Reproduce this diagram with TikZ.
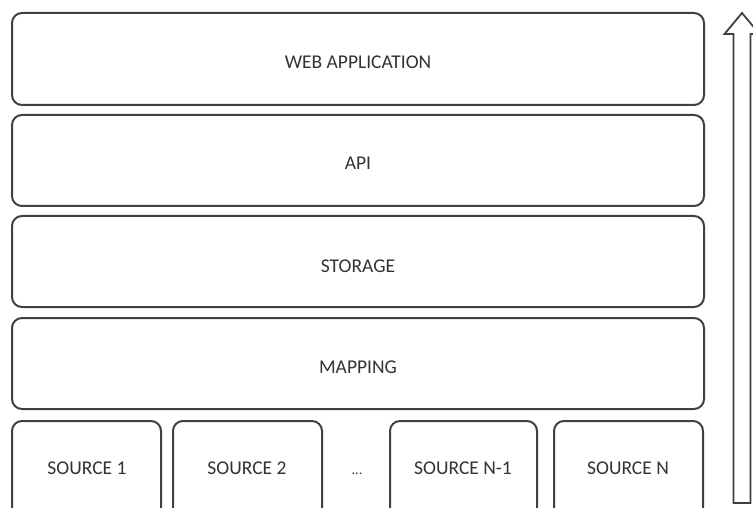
\documentclass[tikz,border=0pt]{standalone}
\usepackage{fontspec}
\setmainfont{Carlito}
\begin{document}
\begin{tikzpicture}[x=1pt,y=-1pt,
  layer/.style={draw=black!75,line width=2pt,rounded corners=10pt,fill=white},
  lbl/.style={text=black!80,font=\fontsize{19.5}{22}\selectfont}]
\useasboundingbox (0,0) rectangle (753,508);
\clip (0,0) rectangle (753,508);
\draw[layer] (12,13) rectangle (704,105);
\node[lbl] (web) at (358,62) {WEB APPLICATION};
\draw[layer] (12,115) rectangle (704,206);
\node[lbl] (api) at (358,163) {API};
\draw[layer] (12,216) rectangle (704,307);
\node[lbl] (sto) at (358,266) {STORAGE};
\draw[layer] (12,318) rectangle (704,409);
\node[lbl] (map) at (358,367) {MAPPING};
\draw[layer] (12,421) rectangle (161,520);
\node[lbl] (s1) at (87,468) {SOURCE 1};
\draw[layer] (173,421) rectangle (322,520);
\node[lbl] (s2) at (247,468) {SOURCE 2};
\node[lbl,font=\fontsize{14}{16}\selectfont] (dots) at (357,474) {...};
\draw[layer] (390,421) rectangle (537,520);
\node[lbl] (sn1) at (463,468) {SOURCE N-1};
\draw[layer] (554,421) rectangle (703,520);
\node[lbl] (sn) at (628,468) {SOURCE N};
\draw[draw=black!75,line width=1.8pt,fill=white,line join=miter]
  (733.5,503) -- (733.5,34) -- (724.5,34) -- (742,13) -- (759.5,34) -- (750.5,34) -- (750.5,503) -- cycle;
\end{tikzpicture}
\end{document}
